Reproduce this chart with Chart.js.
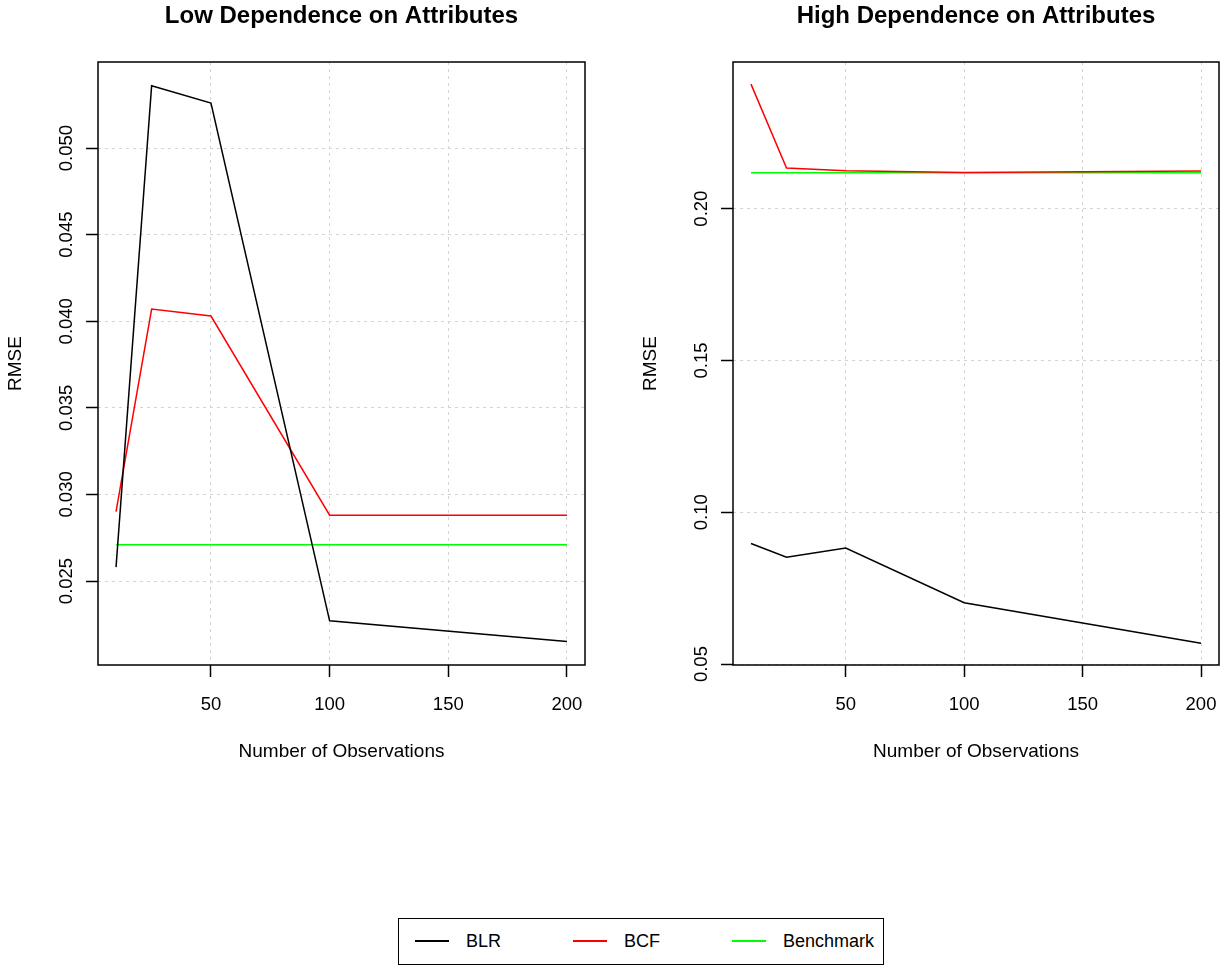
<!DOCTYPE html>
<html>
<head>
<meta charset="utf-8">
<script src="https://cdn.jsdelivr.net/npm/chart.js@4/dist/chart.umd.min.js"></script>
<style>
  html, body { margin: 0; padding: 0; background: #fff; }
  body { width: 1221px; height: 967px; position: relative; overflow: hidden;
         font-family: 'Liberation Sans', Arial, Helvetica, sans-serif; }
  .panel { position: absolute; top: 0; height: 800px; }
  #leftWrap { left: 0; width: 610px; }
  #rightWrap { left: 610px; width: 640px; }
  #legend { position: absolute; left: 398px; top: 918px; width: 486px; height: 47px;
            box-sizing: border-box; border: 1.5px solid #000; }
  .sw { position: absolute; top: 21px; height: 1.6px; width: 34px; }
  .lab { position: absolute; top: 11px; font-size: 18px; line-height: 22px; color: #000; }
</style>
</head>
<body>
<div class="panel" id="leftWrap"><canvas id="chartLow"></canvas></div>
<div class="panel" id="rightWrap"><canvas id="chartHigh"></canvas></div>
<div id="legend">
  <span class="sw" style="left:16px;background:#000000"></span><span class="lab" style="left:67px">BLR</span>
  <span class="sw" style="left:174px;background:#ff0000"></span><span class="lab" style="left:225px">BCF</span>
  <span class="sw" style="left:333px;background:#00ff00"></span><span class="lab" style="left:384px">Benchmark</span>
</div>
<script>
// data
const observations = [10, 25, 50, 100, 200];

const blrLow   = [0.0258, 0.0536, 0.0526, 0.0227, 0.0215];
const bcfLow   = [0.0290, 0.0407, 0.0403, 0.0288, 0.0288];
const benchLow = [0.0271, 0.0271, 0.0271, 0.0271, 0.0271];

const blrHigh   = [0.0897, 0.0852, 0.0882, 0.0702, 0.0569];
const bcfHigh   = [0.2410, 0.2134, 0.2125, 0.2119, 0.2124];
const benchHigh = [0.2118, 0.2118, 0.2118, 0.2118, 0.2118];

const xTicks = [50, 100, 150, 200];
const yTicksLow = [0.025, 0.030, 0.035, 0.040, 0.045, 0.050];
const yTicksHigh = [0.05, 0.10, 0.15, 0.20];

Chart.defaults.font.family = "'Liberation Sans', Arial, Helvetica, sans-serif";
Chart.defaults.color = '#000';

const FONT = "'Liberation Sans', Arial, Helvetica, sans-serif";

// box around the plot region + bold title above it
const panelDecor = {
  id: 'panelDecor',
  afterDraw(chart, args, opts) {
    const { ctx, chartArea: a } = chart;
    ctx.save();
    ctx.strokeStyle = '#000';
    ctx.lineWidth = 1.5;
    ctx.strokeRect(a.left, a.top, a.right - a.left, a.bottom - a.top);
    ctx.font = 'bold 24px ' + FONT;
    ctx.fillStyle = '#000';
    ctx.textAlign = 'center';
    ctx.textBaseline = 'middle';
    ctx.fillText(opts.text, (a.left + a.right) / 2, 16);
    ctx.restore();
  }
};

function series(xs, ys) {
  return xs.map((x, i) => ({ x: x, y: ys[i] }));
}

function makeChart(id, title, blr, bcf, bench, yTicks, yMin, yMax, decimals, leftPad, rightPad, tickPad) {
  const ctx = document.getElementById(id).getContext('2d');
  const line = (label, data, color) => ({
    label: label,
    data: series(observations, data),
    borderColor: color,
    backgroundColor: color,
    borderWidth: 1.5,
    pointRadius: 0,
    pointHoverRadius: 0,
    tension: 0,
    fill: false
  });
  return new Chart(ctx, {
    type: 'line',
    data: {
      datasets: [
        line('BLR', blr, '#000000'),
        line('BCF', bcf, '#ff0000'),
        line('Benchmark', bench, '#00ff00')
      ]
    },
    options: {
      responsive: true,
      maintainAspectRatio: false,
      animation: false,
      layout: { padding: { left: leftPad, top: 62, right: rightPad, bottom: 0 } },
      plugins: {
        legend: { display: false },
        tooltip: { enabled: false },
        panelDecor: { text: title }
      },
      scales: {
        x: {
          type: 'linear',
          min: 2.4,
          max: 207.6,
          afterBuildTicks: (s) => { s.ticks = xTicks.map(v => ({ value: v })); },
          afterFit: (s) => { s.height = 135; },
          ticks: {
            autoSkip: false,
            maxRotation: 0,
            padding: 17,
            font: { size: 18.5 },
            color: '#000',
            callback: (v) => String(v)
          },
          grid: {
            color: '#d3d3d3',
            lineWidth: 1,
            drawTicks: true,
            tickLength: 12,
            tickColor: '#000',
            tickWidth: 1.5,
            tickBorderDash: []
          },
          border: { display: false, dash: [3, 4] },
          title: {
            display: true,
            text: 'Number of Observations',
            font: { size: 19 },
            color: '#000',
            padding: { top: 0, bottom: 36.6 }
          }
        },
        y: {
          type: 'linear',
          min: yMin,
          max: yMax,
          afterBuildTicks: (s) => { s.ticks = yTicks.map(v => ({ value: v })); },
          afterFit: (s) => { s.width = 98; },
          ticks: {
            autoSkip: false,
            minRotation: 90,
            maxRotation: 90,
            crossAlign: 'center',
            padding: tickPad,
            font: { size: 18.5 },
            color: '#000',
            callback: (v) => v.toFixed(decimals)
          },
          grid: {
            color: '#d3d3d3',
            lineWidth: 1,
            drawTicks: true,
            tickLength: 12,
            tickColor: '#000',
            tickWidth: 1.5,
            tickBorderDash: []
          },
          border: { display: false, dash: [3, 4] },
          title: {
            display: true,
            text: 'RMSE',
            font: { size: 19 },
            color: '#000',
            padding: { top: 4.6, bottom: 0 }
          }
        }
      }
    },
    plugins: [panelDecor]
  });
}

makeChart('chartLow', 'Low Dependence on Attributes',
  blrLow, bcfLow, benchLow, yTicksLow, 0.02015, 0.05497, 3, 0, 25, -4);
makeChart('chartHigh', 'High Dependence on Attributes',
  blrHigh, bcfHigh, benchHigh, yTicksHigh, 0.0497, 0.2483, 2, 25, 31, 1.5);
</script>
</body>
</html>
